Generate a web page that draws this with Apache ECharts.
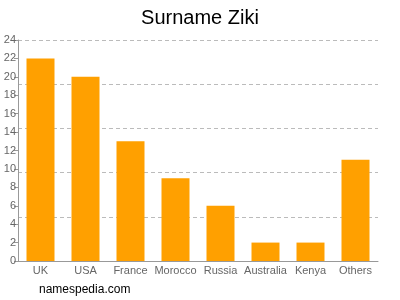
<!DOCTYPE html>
<html><head><meta charset="utf-8">
<script src="https://cdn.jsdelivr.net/npm/echarts@6/dist/echarts.min.js"></script>
<style>html,body{margin:0;padding:0;background:#fff}#c{width:400px;height:300px}</style>
</head><body><div id="c"></div>
<script>
const categories = ["UK","USA","France","Morocco","Russia","Australia","Kenya","Others"];
const counts = [22,20,13,9,6,2,2,11];
const chart = echarts.init(document.getElementById('c'), null, {renderer:'canvas'});
chart.setOption({
  animation:false,
  title:{text:'Surname Ziki',left:'center',top:3,textStyle:{fontFamily:'Liberation Sans, Arial',fontSize:20,fontWeight:'normal',color:'#000'}},
  graphic:[{type:'text',left:39,top:284,style:{text:'namespedia.com',fontFamily:'Liberation Sans, Arial',fontSize:12,fill:'#000'}}],
  grid:{left:18,right:22,top:40,bottom:39,containLabel:false},
  xAxis:{type:'category',data:categories,
    axisLine:{lineStyle:{color:'#999'}},
    axisTick:{alignWithLabel:true,length:4,lineStyle:{color:'#999'}},
    axisLabel:{color:'#666',fontFamily:'Liberation Sans, Arial',fontSize:11,margin:4,interval:0}},
  yAxis:[{type:'value',min:0,max:24,interval:2,
    axisLine:{show:true,lineStyle:{color:'#999'}},
    axisTick:{show:true,length:4,lineStyle:{color:'#999'}},
    axisLabel:{color:'#666',fontFamily:'Liberation Sans, Arial',fontSize:11,margin:2},
    splitLine:{show:false}},
   {type:'value',min:0,max:24,interval:4.8,position:'left',
    axisLine:{show:false},axisTick:{show:false},axisLabel:{show:false},
    splitLine:{show:true,lineStyle:{color:'#bbb',type:[4,3],width:1}}}],
  series:[{type:'bar',data:counts,barWidth:28,itemStyle:{color:'#ffa000'},yAxisIndex:0}]
});
</script></body></html>
